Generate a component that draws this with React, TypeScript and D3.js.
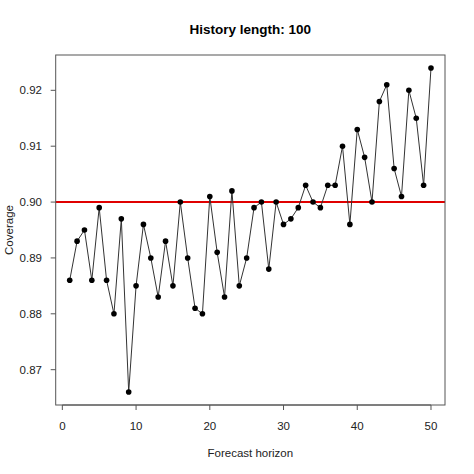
import * as d3 from "d3";

const horizons = d3.range(1, 51);
const coverage = [
  0.886, 0.893, 0.895, 0.886, 0.899, 0.886, 0.88, 0.897, 0.866, 0.885,
  0.896, 0.89, 0.883, 0.893, 0.885, 0.9, 0.89, 0.881, 0.88, 0.901,
  0.891, 0.883, 0.902, 0.885, 0.89, 0.899, 0.9, 0.888, 0.9, 0.896,
  0.897, 0.899, 0.903, 0.9, 0.899, 0.903, 0.903, 0.91, 0.896, 0.913,
  0.908, 0.9, 0.918, 0.921, 0.906, 0.901, 0.92, 0.915, 0.903, 0.924,
];
const xTicks = [0, 10, 20, 30, 40, 50];
const yTicks = [0.87, 0.88, 0.89, 0.9, 0.91, 0.92];
const target = 0.9;

const W = 474;
const H = 474;
const left = 55.7;
const right = 445;
const top = 55;
const bottom = 405;
const font = "'Liberation Sans', Arial, sans-serif";

export default function App() {
  const x = d3.scaleLinear().domain([-0.9, 51.9]).range([left, right]);
  const y = d3.scaleLinear().domain([0.86368, 0.92632]).range([bottom, top]);
  const pts = horizons.map((h, i) => [x(h), y(coverage[i])] as [number, number]);
  const line = d3.line()(pts) ?? "";

  return (
    <svg
      width={W}
      height={H}
      style={{ position: "absolute", left: 0, top: 0, background: "#fff" }}
      fontFamily={font}
    >
      <rect x={0} y={0} width={W} height={H} fill="#fff" />
      <text x={(left + right) / 2} y={34} textAnchor="middle" fontSize={13.5} fontWeight="bold" fill="#000">
        History length: 100
      </text>

      {/* target line */}
      <line x1={left} x2={right} y1={y(target)} y2={y(target)} stroke="#e00000" strokeWidth={2} />

      <path d={line} fill="none" stroke="#333" strokeWidth={1} />
      {pts.map(([cx, cy], i) => (
        <circle key={i} cx={cx} cy={cy} r={2.8} fill="#000" />
      ))}

      <rect x={left} y={top} width={right - left} height={bottom - top} fill="none" stroke="#555" strokeWidth={1} />

      {/* x axis */}
      <line x1={x(0)} x2={x(50)} y1={bottom} y2={bottom} stroke="#555" />
      {xTicks.map((t) => (
        <g key={t}>
          <line x1={x(t)} x2={x(t)} y1={bottom} y2={bottom + 5} stroke="#555" />
          <text x={x(t)} y={430} textAnchor="middle" fontSize={11.5} fill="#222">
            {t}
          </text>
        </g>
      ))}
      <text x={(left + right) / 2} y={457} textAnchor="middle" fontSize={11.5} fill="#222">
        Forecast horizon
      </text>

      {/* y axis */}
      {yTicks.map((t) => (
        <g key={t}>
          <line x1={left - 5} x2={left} y1={y(t)} y2={y(t)} stroke="#555" />
          <text x={42} y={y(t) + 4} textAnchor="end" fontSize={11.5} fill="#222">
            {t.toFixed(2)}
          </text>
        </g>
      ))}
      <text
        transform={`translate(13, ${(top + bottom) / 2}) rotate(-90)`}
        textAnchor="middle"
        fontSize={11.5}
        fill="#222"
      >
        Coverage
      </text>
    </svg>
  );
}
